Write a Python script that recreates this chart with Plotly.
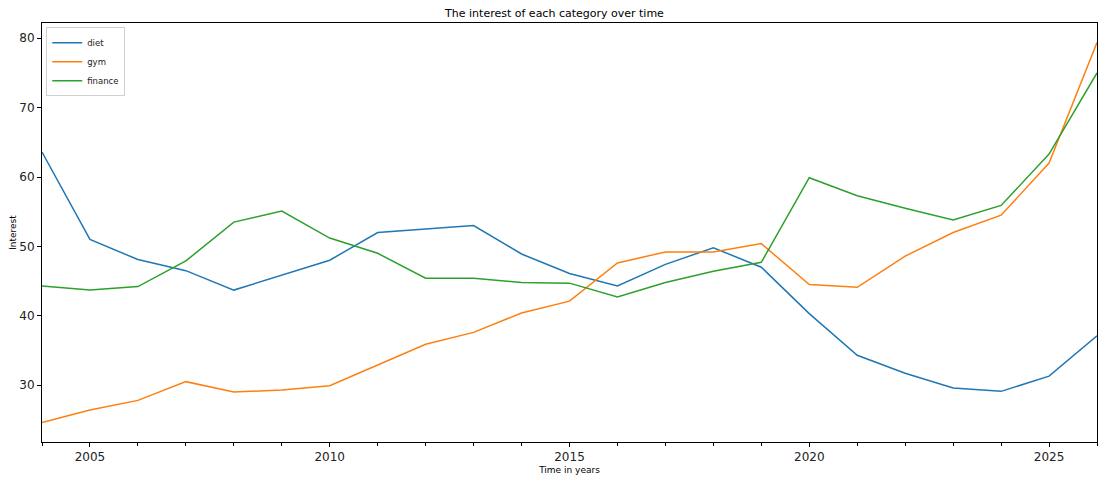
import plotly.graph_objects as go

years = list(range(2004, 2027))
diet = [63.6, 51.0, 48.1, 46.5, 43.7, 45.8, 48.0, 52.0, 52.5, 53.0, 48.9, 46.1, 44.3,
        47.4, 49.8, 47.0, 40.3, 34.3, 31.7, 29.6, 29.1, 31.3, 37.1]
gym = [24.6, 26.4, 27.8, 30.5, 29.0, 29.3, 29.9, 32.9, 35.9, 37.6, 40.4, 42.1, 47.6,
       49.2, 49.2, 50.4, 44.5, 44.1, 48.6, 52.0, 54.5, 62.0, 79.4]
finance = [44.3, 43.7, 44.2, 47.9, 53.5, 55.1, 51.2, 49.0, 45.4, 45.4, 44.8, 44.7, 42.7,
           44.8, 46.4, 47.7, 59.9, 57.3, 55.5, 53.8, 55.9, 63.3, 75.0]

series = [("diet", diet, "#1f77b4"), ("gym", gym, "#ff7f0e"), ("finance", finance, "#2ca02c")]

fig = go.Figure()
for name, vals, color in series:
    fig.add_trace(go.Scatter(x=years, y=vals, mode="lines", name=name,
                             line=dict(color=color, width=1.5)))

axis_common = dict(showgrid=False, zeroline=False, showline=True, linecolor="black",
                   linewidth=1, mirror=True, ticks="outside", ticklen=4, tickcolor="black",
                   automargin=False, tickfont=dict(size=12, color="#222"))

fig.update_xaxes(range=[2004, 2026], tickvals=[2005, 2010, 2015, 2020, 2025],
                 minor=dict(dtick=1, tick0=2004, ticks="outside", ticklen=2.5, tickcolor="black"),
                 title=dict(text="Time in years", font=dict(size=9, color="black"), standoff=3),
                 **axis_common)
fig.update_yaxes(range=[21.8, 82.2], tickvals=[30, 40, 50, 60, 70, 80],
                 title=dict(text="Interest", font=dict(size=9, color="black"), standoff=3),
                 **axis_common)

# page body has an 8px margin, so the figure is sized to fit inside it
fig.update_layout(
    width=1093, height=471,
    margin=dict(l=34, r=4, t=15, b=37, autoexpand=False),
    paper_bgcolor="white", plot_bgcolor="white",
    font=dict(family="DejaVu Sans"),
    title=dict(text="The interest of each category over time", x=0.5, xanchor="center",
               y=0.989, yanchor="middle", font=dict(size=11, color="black")),
    legend=dict(x=0.004, y=0.99, xanchor="left", yanchor="top", bgcolor="white",
                bordercolor="#d0d0d0", borderwidth=1, font=dict(size=8.5, color="#222"),
                tracegroupgap=0, itemwidth=30),
    showlegend=True,
)

fig.write_html("out.html")
